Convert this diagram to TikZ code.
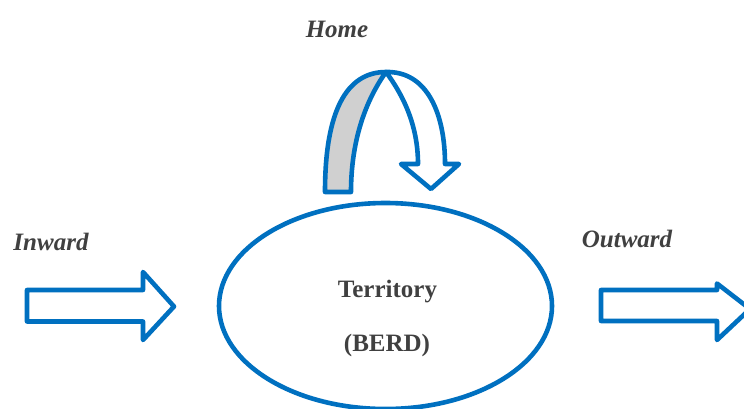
\documentclass[tikz,border=0pt]{standalone}
\usepackage{fontspec}
\setmainfont{Liberation Serif}
\usetikzlibrary{shapes.geometric}
\definecolor{myblue}{RGB}{0,112,192}
\definecolor{mygray}{RGB}{208,208,208}
\definecolor{txtgray}{RGB}{64,64,64}
\begin{document}
\begin{tikzpicture}[x=1pt,y=-1pt,
  outline/.style={draw=myblue,line width=4.6pt,line join=round},
  lbl/.style={anchor=base,text=txtgray,font=\fontsize{25}{30}\selectfont\bfseries\itshape,inner sep=0pt},
  ctext/.style={anchor=base,text=txtgray,font=\fontsize{25}{30}\selectfont\bfseries,inner sep=0pt}]
\useasboundingbox (0,0) rectangle (744,408);
\clip (0,0) rectangle (744,408);
% territory ellipse
\node[outline,shape=ellipse,minimum width=333pt,minimum height=206pt,inner sep=0pt] (terr) at (385.5,306) {};
\node[ctext] (t1) at (387.5,297) {Territory};
\node[ctext] (t2) at (387,351) {(BERD)};
% home U-turn arrow
\path[outline,fill=mygray] (325,192) .. controls (325,112) and (346,72) .. (386,72)
  .. controls (366,100) and (351,140) .. (351,192) -- cycle;
\path[outline,fill=white] (386,72) .. controls (428,71) and (445,115) .. (445,164)
  -- (459,164) -- (431,189) -- (401,164) -- (418,164)
  .. controls (418,125) and (403,95) .. (386,72) -- cycle;
\node[lbl] (home) at (337,37) {Home};
% inward arrow
\path[outline,fill=white] (27,290) -- (143,290) -- (143,272) -- (174,306.5) -- (143,340) -- (143,321.5) -- (27,321.5) -- cycle;
\node[lbl] (inw) at (51,250) {Inward};
% outward arrow
\path[outline,fill=white] (601,290) -- (717,290) -- (717,283.5) -- (750,309) -- (717,340) -- (717,321) -- (601,321) -- cycle;
\node[lbl] (outw) at (627,247) {Outward};
\end{tikzpicture}
\end{document}
